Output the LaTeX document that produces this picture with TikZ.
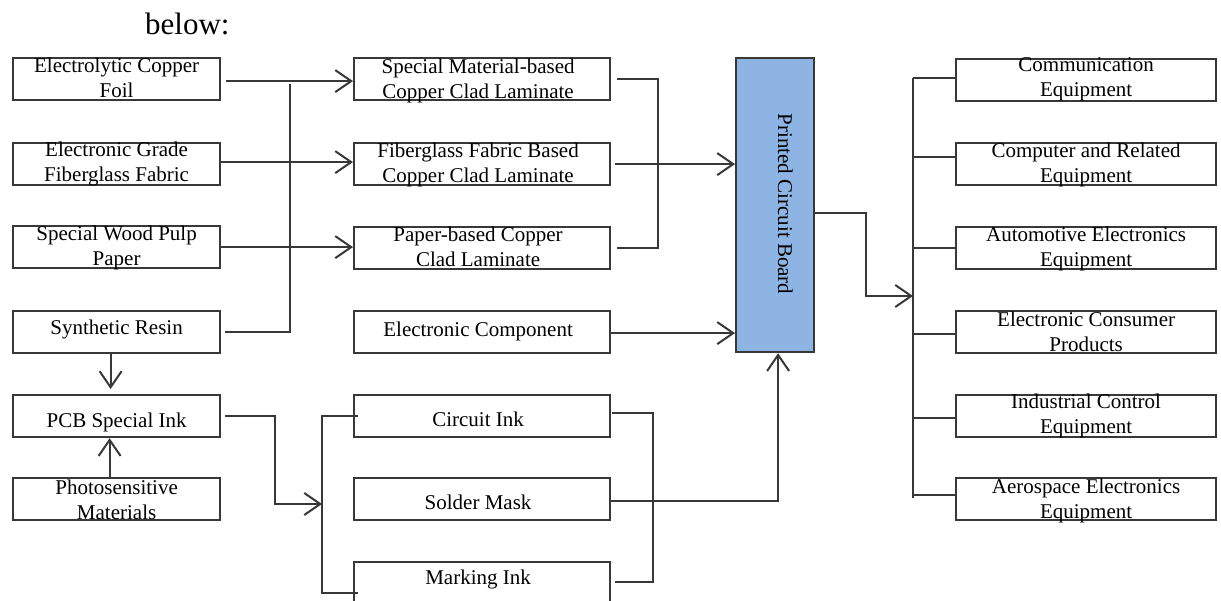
\documentclass[tikz,border=0pt]{standalone}
\usepackage{fontspec}
\setmainfont{Liberation Serif}
\usetikzlibrary{arrows.meta,calc}

\definecolor{pcbblue}{HTML}{8EB4E3}
\definecolor{edge}{HTML}{383838}

\tikzset{
  box/.style={draw=edge, line width=2.2pt, rectangle, inner sep=0pt, anchor=north west},
  txt/.style={anchor=base, inner sep=0pt, font=\fontsize{21}{25}\selectfont},
  wire/.style={draw=edge, line width=2pt},
  arr/.style={wire, -{Straight Barb[length=16pt, width=22pt]}},
}

% two-line caption, anchored on the baseline of its first line
\newcommand\tl[2]{\begin{tabular}[t]{@{}c@{}}#1\\#2\end{tabular}}

% [x offset of text] name, top left corner, width, height, first baseline below top, text
\newcommand\pbox[8][0]{%
  \node[box, minimum width=#4pt, minimum height=#5pt] (#2) at (#3) {};
  \node[txt] (#2-t) at ($(#2.north)+(#1,#6)$) {#7#8};}

\begin{document}
\begin{tikzpicture}[x=1pt, y=-1pt]
  \useasboundingbox (0,0) rectangle (1221,601);
  \fill[white] (0,0) rectangle (1221,601);
  \clip (0,0) rectangle (1221,601);

  \node[anchor=base west, inner sep=0pt, font=\fontsize{31}{36}\selectfont] (intro) at (145,35) {below:};

  % raw materials
  \pbox{ecf}{12,57}{207}{42}{16}{}{\tl{Electrolytic Copper}{Foil}}
  \pbox{egf}{12,142}{207}{42}{15}{}{\tl{Electronic Grade}{Fiberglass Fabric}}
  \pbox{swp}{12,225}{207}{42}{16}{}{\tl{Special Wood Pulp}{Paper}}
  \pbox{sr}{12,310}{207}{42}{25}{}{Synthetic Resin}
  \pbox{pink}{12,394}{207}{42}{34}{}{PCB Special Ink}
  \pbox{photo}{12,477}{207}{42}{17}{}{\tl{Photosensitive}{Materials}}

  % intermediate products
  \pbox[-4]{sm}{353,57}{256}{42}{17}{}{\tl{Special Material-based}{Copper Clad Laminate}}
  \pbox[-4]{fg}{353,142}{256}{42}{16}{}{\tl{Fiberglass Fabric Based}{Copper Clad Laminate}}
  \pbox[-4]{pb}{353,226}{256}{42}{16}{}{\tl{Paper-based Copper}{Clad Laminate}}
  \pbox[-4]{ec}{353,310}{256}{42}{27}{}{Electronic Component}
  \pbox[-4]{ci}{353,394}{256}{42}{33}{}{Circuit Ink}
  \pbox[-4]{so}{353,477}{256}{42}{32}{}{Solder Mask}
  \pbox[-4]{mi}{353,561}{256}{52}{23}{}{Marking Ink}

  % the board
  \node[box, fill=pcbblue, minimum width=78pt, minimum height=294pt] (pcb) at (735,57) {};
  \node[txt, rotate=-90] (pcb-t) at (778,204) {Printed Circuit Board};

  % applications
  \pbox{ce}{955,58}{260}{42}{14}{}{\tl{Communication}{Equipment}}
  \pbox{cre}{955,142}{260}{42}{16}{}{\tl{Computer and Related}{Equipment}}
  \pbox{aee}{955,226}{260}{42}{16}{}{\tl{Automotive Electronics}{Equipment}}
  \pbox{ecp}{955,310}{260}{42}{17}{}{\tl{Electronic Consumer}{Products}}
  \pbox{ice}{955,394}{260}{42}{15}{}{\tl{Industrial Control}{Equipment}}
  \pbox{aero}{955,477}{260}{42}{16}{}{\tl{Aerospace Electronics}{Equipment}}

  % bus points
  \coordinate (rtop) at (290,84);
  \coordinate (lbus) at (658,163);
  \coordinate (inkin) at (322,504);
  \coordinate (ibb) at (322,593);
  \coordinate (orb) at (653,582);
  \coordinate (obus) at (913,296);

  % materials to laminates
  \draw[arr] ([xshift=5pt,yshift=-2pt]ecf.east) -- ([yshift=-2pt]ecf.east -| sm.west);
  \draw[arr] ([yshift=2pt]egf.east) -- ([yshift=2pt]egf.east -| fg.west);
  \draw[arr] (swp.east) -- (swp.east -| pb.west);
  \draw[wire] ([xshift=4pt]sr.east) -| (rtop);

  % resin and photosensitive materials into the ink
  \draw[arr] ([xshift=-6pt]sr.south) -- ([xshift=-6pt,yshift=5pt]pink.north);
  \draw[arr] ([xshift=-7pt]photo.north) -- ([xshift=-7pt]pink.south);

  % ink to the three ink types
  \draw[arr] ([xshift=4pt]pink.east) -- ++(50,0) |- (inkin);
  \draw[wire] ([xshift=5pt]ci.west) -- (ci.west -| ibb) -- (ibb) -- ([xshift=5pt]ibb -| mi.west);

  % inks to the board
  \draw[wire] ([xshift=1pt,yshift=3pt]ci.east) -- ([yshift=3pt]ci.east -| orb) -- (orb) -- ([xshift=4pt]orb -| mi.east);
  \draw[arr] ([yshift=-2pt]so.east) -| ([xshift=3pt]pcb.south);

  % laminates and components to the board
  \draw[wire] ([xshift=6pt]sm.east) -- (sm.east -| lbus) -- (pb.east -| lbus) -- ([xshift=6pt]pb.east);
  \draw[arr] ([xshift=4pt]fg.east) -- (fg.east -| pcb.west);
  \draw[arr] ([yshift=-1pt]ec.east) -- ([yshift=-1pt]ec.east -| pcb.west);

  % board to applications
  \draw[arr] ([yshift=-8pt]pcb.east) -- ++(51,0) |- (obus);
  \draw[wire] ([yshift=2pt]obus |- ce.west) -- ([yshift=1pt]obus |- aero.west);
  \foreach \n/\s in {ce/2, cre/7, aee/0, ecp/-2, ice/-2, aero/4}
    \draw[wire] ([yshift=\s pt]obus |- \n.west) -- ([xshift=2pt,yshift=\s pt]\n.west);
\end{tikzpicture}
\end{document}
